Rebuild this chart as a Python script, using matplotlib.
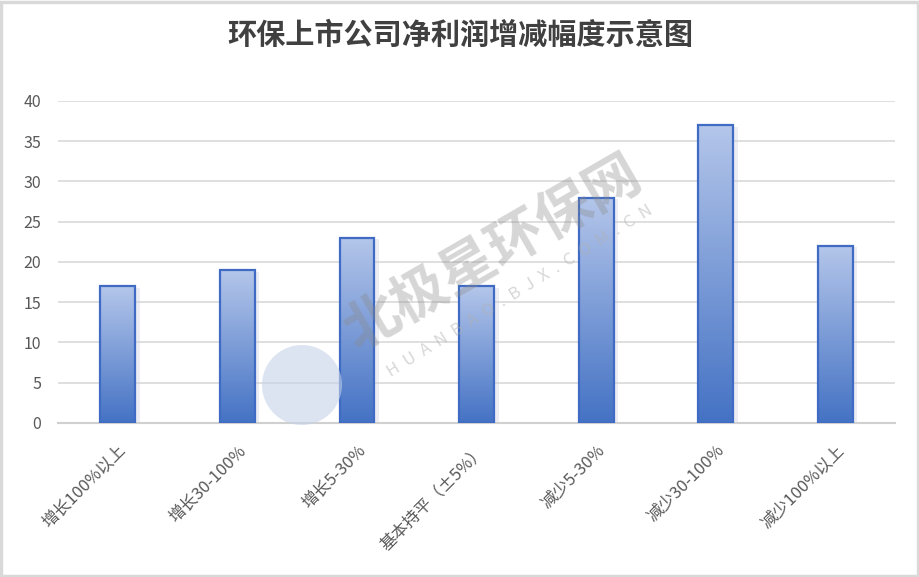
import numpy as np
import matplotlib.pyplot as plt
import matplotlib.transforms as mtransforms
from matplotlib.colors import LinearSegmentedColormap
from matplotlib.patches import Rectangle, Circle

plt.rcParams['font.family'] = ['Noto Sans CJK SC', 'DejaVu Sans']

categories = ["增长100%以上", "增长30-100%", "增长5-30%", "基本持平（±5%）",
              "减少5-30%", "减少30-100%", "减少100%以上"]
values = [17, 19, 23, 17, 28, 37, 22]
yticks = [0, 5, 10, 15, 20, 25, 30, 35, 40]

fig = plt.figure(figsize=(9.2, 5.77), dpi=100)
ax = fig.add_axes([0.063, 0.267, 0.910, 0.558])

x = np.arange(len(categories))
width = 0.29
cmap = LinearSegmentedColormap.from_list("g", ["#4472c4", "#b4c6ea"])
grad = np.linspace(0, 1, 256).reshape(-1, 1)

bars = ax.bar(x, values, width, facecolor="none", edgecolor="#3f6bc4",
              linewidth=1.6, zorder=4)
for b in bars:
    x0, w, h = b.get_x(), b.get_width(), b.get_height()
    # soft shadow
    ax.add_patch(Rectangle((x0 + 0.02, 0), w + 0.02, h - 0.2, facecolor="#c8cede",
                           edgecolor="none", alpha=0.35, zorder=2))
    ax.imshow(grad, extent=[x0, x0 + w, 0, h], origin="lower", cmap=cmap,
              aspect="auto", zorder=3)

ax.set_xlim(-0.5, len(categories) - 0.5)
ax.set_ylim(0, 40)
ax.set_yticks(yticks)
ax.set_xticks(x)
ax.set_xticklabels(categories, rotation=45, ha="right", va="center",
                   rotation_mode="anchor", color="#595959", fontsize=12)
ax.tick_params(axis="x", length=0, pad=18)
shift = mtransforms.ScaledTranslation(6 / 100, 0, fig.dpi_scale_trans)
for lbl in ax.get_xticklabels():
    lbl.set_transform(lbl.get_transform() + shift)
ax.tick_params(axis="y", length=0, pad=12, labelsize=11.5, labelcolor="#595959")
ax.grid(axis="y", color="#d9d9d9", linewidth=1.2, zorder=0)
ax.set_axisbelow(True)
for s in ["top", "right", "left"]:
    ax.spines[s].set_visible(False)
ax.spines["bottom"].set_color("#d0d0d0")
ax.spines["bottom"].set_linewidth(1.5)

fig.text(0.5, 0.94, "环保上市公司净利润增减幅度示意图", ha="center", va="center",
         fontsize=21, fontweight="bold", color="#404040")

# watermark
fig.text(0.536, 0.56, "北极星环保网", ha="center", va="center", rotation=30,
         fontsize=40, fontweight="heavy", color="#8a8a8a", alpha=0.35, zorder=10)
fig.text(0.565, 0.495, "H  U  A  N  B  A  O  .  B  J  X  .  C  O  M  .  C  N",
         ha="center", va="center", rotation=32, fontsize=12, color="#b0b0b0",
         alpha=0.5, zorder=10)
fig.patches.append(Circle((3.02, 1.92), 0.40, transform=fig.dpi_scale_trans,
                          facecolor="#c5d3e8", edgecolor="none", alpha=0.6, zorder=1))

fig.patches.append(Rectangle((0.001, 0.002), 0.997, 0.995, transform=fig.transFigure,
                             fill=False, edgecolor="#d9d9d9", linewidth=2.5))

fig.savefig("out.png", dpi=100)
